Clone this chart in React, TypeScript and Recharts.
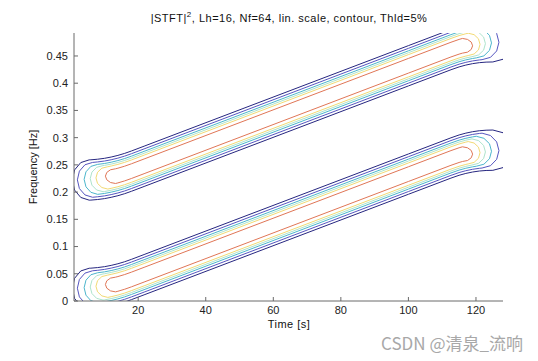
import React from 'react';
import { LineChart, Line, XAxis, YAxis } from 'recharts';

type P = [number, number];

// axis values
const timeDomain: [number, number] = [1, 128];
const freqDomain: [number, number] = [0, 0.4921875];
const xTicks = [20, 40, 60, 80, 100, 120];
const yTicks = [0, 0.05, 0.1, 0.15, 0.2, 0.25, 0.3, 0.35, 0.4, 0.45];

// contour level colours (outer -> inner)
const levelColors = ['#262680', '#5656c0', '#4cb6cc', '#aee4cc', '#f2da74', '#e07656'];

// ---- lower chirp band: contour outlines [time, frequency] ----
const lowL1: P[] = [[5.5,0.0602],[6,0.0603],[8,0.0614],[10,0.063],[12,0.0654],[14,0.0684],[16,0.0721],[18,0.0765],[22,0.0859],[100,0.27],[112.6,0.2997],[115,0.3049],[117,0.3083],[119,0.3109],[121,0.3127],[123,0.3137],[125,0.314],[128,0.309],[130.2,0.2955],[131,0.277],[130.2,0.2585],[128,0.245],[125,0.24],[123,0.2397],[121,0.2387],[119,0.2369],[117,0.2343],[115,0.2309],[112.6,0.2257],[100,0.196],[22,0.0119],[18,0.0025],[16,-0.0019],[14,-0.0056],[12,-0.0086],[10,-0.011],[8,-0.0126],[6,-0.0137],[5.5,-0.0138],[3.0,-0.0088],[1.17,0.0047],[0.5,0.0232],[1.17,0.0417],[3.0,0.0552],[5.5,0.0602]];
const lowL2: P[] = [[6.5,0.0555],[8,0.0564],[10,0.058],[12,0.0604],[14,0.0634],[16,0.0671],[18,0.0715],[22,0.0809],[100,0.265],[112.6,0.2947],[115,0.2999],[117,0.3033],[119,0.3059],[121,0.3077],[121.8,0.3082],[124.3,0.3039],[126.13,0.2922],[126.8,0.2762],[126.13,0.2602],[124.3,0.2485],[121.8,0.2442],[121,0.2437],[119,0.2419],[117,0.2393],[115,0.2359],[112.6,0.2307],[100,0.201],[22,0.0169],[18,0.0075],[16,0.0031],[14,-0.0006],[12,-0.0036],[10,-0.006],[8,-0.0076],[6.5,-0.0085],[4.25,-0.0042],[2.6,0.0075],[2.0,0.0235],[2.6,0.0395],[4.25,0.0512],[6.5,0.0555]];
const lowL3: P[] = [[8,0.0519],[10,0.0535],[12,0.0559],[14,0.0589],[16,0.0626],[18,0.067],[22,0.0764],[100,0.2605],[112.6,0.2902],[115,0.2954],[117,0.2988],[119,0.3014],[120.1,0.3025],[122.35,0.2988],[124.0,0.2888],[124.6,0.275],[124.0,0.2613],[122.35,0.2512],[120.1,0.2475],[119,0.2464],[117,0.2438],[115,0.2404],[112.6,0.2352],[100,0.2055],[22,0.0214],[18,0.012],[16,0.0076],[14,0.0039],[12,0.0009],[10,-0.0015],[8,-0.0031],[6,0.0006],[4.54,0.0107],[4.0,0.0244],[4.54,0.0382],[6,0.0482],[8,0.0519]];
const lowL4: P[] = [[9.6,0.0497],[10,0.05],[12,0.0524],[14,0.0554],[16,0.0591],[18,0.0635],[22,0.0729],[100,0.257],[112.6,0.2867],[115,0.2919],[117,0.2953],[118.8,0.2977],[120.8,0.2945],[122.26,0.2857],[122.8,0.2737],[122.26,0.2617],[120.8,0.2529],[118.8,0.2497],[117,0.2473],[115,0.2439],[112.6,0.2387],[100,0.209],[22,0.0249],[18,0.0155],[16,0.0111],[14,0.0074],[12,0.0044],[10,0.002],[9.6,0.0017],[7.7,0.0049],[6.31,0.0137],[5.8,0.0257],[6.31,0.0377],[7.7,0.0465],[9.6,0.0497]];
const lowL5: P[] = [[11,0.0476],[12,0.0489],[14,0.0519],[16,0.0556],[18,0.06],[22,0.0694],[100,0.2535],[112.6,0.2832],[115,0.2884],[117,0.2918],[117.7,0.2928],[119.45,0.2901],[120.73,0.2826],[121.2,0.2723],[120.73,0.2621],[119.45,0.2546],[117.7,0.2518],[117,0.2508],[115,0.2474],[112.6,0.2422],[100,0.2125],[22,0.0284],[18,0.019],[16,0.0146],[14,0.0109],[12,0.0079],[11,0.0066],[9.25,0.0094],[7.97,0.0169],[7.5,0.0271],[7.97,0.0374],[9.25,0.0449],[11,0.0476]];
const lowL6: P[] = [[13.3,0.0438],[14,0.0449],[16,0.0486],[18,0.053],[22,0.0624],[100,0.2465],[112.6,0.2762],[115,0.2814],[116,0.2832],[117.5,0.2814],[118.6,0.2765],[119,0.2697],[118.6,0.263],[117.5,0.258],[116,0.2562],[115,0.2544],[112.6,0.2492],[100,0.2195],[22,0.0354],[18,0.026],[16,0.0216],[14,0.0179],[13.3,0.0168],[11.8,0.0186],[10.7,0.0236],[10.3,0.0303],[10.7,0.0371],[11.8,0.042],[13.3,0.0438]];

// ---- upper chirp band: contour outlines [time, frequency] ----
const upL1: P[] = [[5.5,0.2592],[6,0.2593],[8,0.2604],[10,0.262],[12,0.2644],[14,0.2674],[16,0.2711],[18,0.2755],[22,0.2849],[100,0.469],[112.6,0.4987],[115,0.5039],[117,0.5073],[119,0.5099],[121,0.5117],[123,0.5127],[125,0.513],[128,0.508],[130.2,0.4945],[131,0.476],[130.2,0.4575],[128,0.444],[125,0.439],[123,0.4387],[121,0.4377],[119,0.4359],[117,0.4333],[115,0.4299],[112.6,0.4247],[100,0.395],[22,0.2109],[18,0.2015],[16,0.1971],[14,0.1934],[12,0.1904],[10,0.188],[8,0.1864],[6,0.1853],[5.5,0.1852],[3.0,0.1902],[1.17,0.2037],[0.5,0.2222],[1.17,0.2407],[3.0,0.2542],[5.5,0.2592]];
const upL2: P[] = [[6.5,0.2545],[8,0.2554],[10,0.257],[12,0.2594],[14,0.2624],[16,0.2661],[18,0.2705],[22,0.2799],[100,0.464],[112.6,0.4937],[115,0.4989],[117,0.5023],[119,0.5049],[121,0.5067],[121.8,0.5072],[124.3,0.5029],[126.13,0.4912],[126.8,0.4752],[126.13,0.4592],[124.3,0.4475],[121.8,0.4432],[121,0.4427],[119,0.4409],[117,0.4383],[115,0.4349],[112.6,0.4297],[100,0.4],[22,0.2159],[18,0.2065],[16,0.2021],[14,0.1984],[12,0.1954],[10,0.193],[8,0.1914],[6.5,0.1905],[4.25,0.1948],[2.6,0.2065],[2.0,0.2225],[2.6,0.2385],[4.25,0.2502],[6.5,0.2545]];
const upL3: P[] = [[8,0.2509],[10,0.2525],[12,0.2549],[14,0.2579],[16,0.2616],[18,0.266],[22,0.2754],[100,0.4595],[112.6,0.4892],[115,0.4944],[117,0.4978],[119,0.5004],[120.1,0.5015],[122.35,0.4978],[124.0,0.4878],[124.6,0.474],[124.0,0.4603],[122.35,0.4502],[120.1,0.4465],[119,0.4454],[117,0.4428],[115,0.4394],[112.6,0.4342],[100,0.4045],[22,0.2204],[18,0.211],[16,0.2066],[14,0.2029],[12,0.1999],[10,0.1975],[8,0.1959],[6,0.1996],[4.54,0.2097],[4.0,0.2234],[4.54,0.2372],[6,0.2472],[8,0.2509]];
const upL4: P[] = [[9.6,0.2487],[10,0.249],[12,0.2514],[14,0.2544],[16,0.2581],[18,0.2625],[22,0.2719],[100,0.456],[112.6,0.4857],[115,0.4909],[117,0.4943],[118.8,0.4967],[120.8,0.4935],[122.26,0.4847],[122.8,0.4727],[122.26,0.4607],[120.8,0.4519],[118.8,0.4487],[117,0.4463],[115,0.4429],[112.6,0.4377],[100,0.408],[22,0.2239],[18,0.2145],[16,0.2101],[14,0.2064],[12,0.2034],[10,0.201],[9.6,0.2007],[7.7,0.2039],[6.31,0.2127],[5.8,0.2247],[6.31,0.2367],[7.7,0.2455],[9.6,0.2487]];
const upL5: P[] = [[11,0.2466],[12,0.2479],[14,0.2509],[16,0.2546],[18,0.259],[22,0.2684],[100,0.4525],[112.6,0.4822],[115,0.4874],[117,0.4908],[117.7,0.4918],[119.45,0.4891],[120.73,0.4816],[121.2,0.4713],[120.73,0.4611],[119.45,0.4536],[117.7,0.4508],[117,0.4498],[115,0.4464],[112.6,0.4412],[100,0.4115],[22,0.2274],[18,0.218],[16,0.2136],[14,0.2099],[12,0.2069],[11,0.2056],[9.25,0.2084],[7.97,0.2159],[7.5,0.2261],[7.97,0.2364],[9.25,0.2439],[11,0.2466]];
const upL6: P[] = [[13.3,0.2428],[14,0.2439],[16,0.2476],[18,0.252],[22,0.2614],[100,0.4455],[112.6,0.4752],[115,0.4804],[116,0.4822],[117.5,0.4804],[118.6,0.4755],[119,0.4687],[118.6,0.462],[117.5,0.457],[116,0.4552],[115,0.4534],[112.6,0.4482],[100,0.4185],[22,0.2344],[18,0.225],[16,0.2206],[14,0.2169],[13.3,0.2158],[11.8,0.2176],[10.7,0.2226],[10.3,0.2293],[10.7,0.2361],[11.8,0.241],[13.3,0.2428]];

const lowBand = [lowL1, lowL2, lowL3, lowL4, lowL5, lowL6];
const upBand = [upL1, upL2, upL3, upL4, upL5, upL6];

const series = [
  ...lowBand.map((pts, i) => ({ id: `low${i}`, color: levelColors[i], data: pts.map(([t, f]) => ({ t, f })) })),
  ...upBand.map((pts, i) => ({ id: `up${i}`, color: levelColors[i], data: pts.map(([t, f]) => ({ t, f })) })),
];

const FONT = '"Liberation Sans", Arial, Helvetica, sans-serif';
const AXIS = '#6a6a6a';
const TICK_TEXT = { fill: '#222', fontSize: 11, fontFamily: FONT };

export default function App() {
  return (
    <div style={{ position: 'fixed', left: 0, top: 0, width: 538, height: 361, background: '#fff' }}>
      <LineChart
        width={538}
        height={361}
        margin={{ top: 33, right: 35, bottom: 25, left: 14 }}
        style={{ fontFamily: FONT }}
      >
        <XAxis
          xAxisId={0}
          dataKey="t"
          type="number"
          domain={timeDomain}
          allowDataOverflow
          ticks={xTicks}
          height={35}
          tickSize={-4}
          tickMargin={9}
          tick={TICK_TEXT}
          axisLine={{ stroke: AXIS }}
          tickLine={{ stroke: AXIS }}
          interval={0}
        />
        <XAxis
          xAxisId="top"
          orientation="top"
          dataKey="t"
          type="number"
          domain={timeDomain}
          allowDataOverflow
          ticks={xTicks}
          height={0}
          tickSize={-4}
          tick={false}
          axisLine={{ stroke: AXIS }}
          tickLine={{ stroke: AXIS }}
          interval={0}
        />
        <YAxis
          yAxisId={0}
          type="number"
          domain={freqDomain}
          allowDataOverflow
          ticks={yTicks}
          width={60}
          tickSize={-4}
          tickMargin={10}
          tick={TICK_TEXT}
          tickFormatter={(v: number) => String(v)}
          axisLine={{ stroke: AXIS }}
          tickLine={{ stroke: AXIS }}
          interval={0}
        />
        <YAxis
          yAxisId="right"
          orientation="right"
          type="number"
          domain={freqDomain}
          allowDataOverflow
          ticks={yTicks}
          width={0}
          tickSize={-4}
          tick={false}
          axisLine={{ stroke: AXIS }}
          tickLine={{ stroke: AXIS }}
          interval={0}
        />
        {series.map((s) => (
          <Line
            key={s.id}
            xAxisId={0}
            yAxisId={0}
            data={s.data}
            dataKey="f"
            type="linear"
            stroke={s.color}
            strokeWidth={1}
            dot={false}
            activeDot={false}
            isAnimationActive={false}
          />
        ))}
      </LineChart>
      <svg
        width={538}
        height={361}
        style={{ position: 'absolute', left: 0, top: 0, pointerEvents: 'none' }}
      >
        <text x={289} y={22} textAnchor="middle" fontSize={11} fontFamily={FONT} fill="#111" letterSpacing={0.5}>
          |STFT|<tspan dy={-5} fontSize={8}>2</tspan>
          <tspan dy={5}>, Lh=16, Nf=64, lin. scale, contour, Thld=5%</tspan>
        </text>
        <text x={289} y={328} textAnchor="middle" fontSize={11} fontFamily={FONT} fill="#111" letterSpacing={0.5}>
          Time [s]
        </text>
        <text
          x={0}
          y={0}
          transform="translate(37,167) rotate(-90)"
          textAnchor="middle"
          fontSize={11}
          fontFamily={FONT}
          fill="#111"
        >
          Frequency [Hz]
        </text>
        <text x={523} y={350} textAnchor="end" fontSize={17} fontFamily='"Noto Sans CJK SC", "Noto Sans", sans-serif' fill="#a8a8a8">
          CSDN @清泉_流响
        </text>
      </svg>
    </div>
  );
}
